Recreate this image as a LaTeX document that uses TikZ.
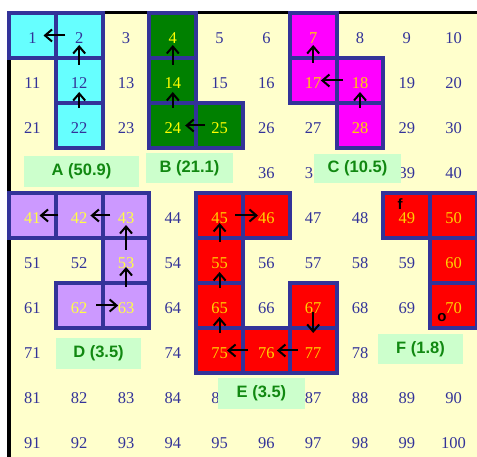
\documentclass[tikz,border=0pt]{standalone}
\usepackage{fontspec}
\setmainfont{Liberation Serif}
\newfontfamily\labfont{Liberation Sans}
\usetikzlibrary{arrows.meta}
\definecolor{numblue}{HTML}{333399}
\definecolor{bgyellow}{HTML}{FFFFCC}
\definecolor{cyanA}{HTML}{66FFFF}
\definecolor{greenB}{HTML}{008000}
\definecolor{magC}{HTML}{FF00FF}
\definecolor{lavD}{HTML}{CC99FF}
\definecolor{redE}{HTML}{FF0000}
\definecolor{lblbg}{HTML}{CCFFCC}
\definecolor{lblfg}{HTML}{118811}
\definecolor{ytext}{HTML}{FFFF00}
\definecolor{otext}{HTML}{FFD200}
\definecolor{ltext}{HTML}{FFFF44}
\tikzset{
  cell/.style={minimum width=46.8pt, minimum height=45pt, inner sep=0pt, outer sep=0pt,
    text=numblue, font=\fontsize{16.5}{16.5}\selectfont, text height=15.5pt, text depth=0pt},
  colcell/.style={fill=#1, draw=numblue, line width=4pt},
  grpA/.style={colcell=cyanA},
  grpB/.style={colcell=greenB, text=ytext},
  grpC/.style={colcell=magC, text=otext},
  grpD/.style={colcell=lavD, text=ltext},
  grpE/.style={colcell=redE, text=otext},
  cs1/.style={grpA}, cs2/.style={grpA}, cs12/.style={grpA}, cs22/.style={grpA},
  cs4/.style={grpB}, cs14/.style={grpB}, cs24/.style={grpB}, cs25/.style={grpB},
  cs7/.style={grpC}, cs17/.style={grpC}, cs18/.style={grpC}, cs28/.style={grpC},
  cs41/.style={grpD}, cs42/.style={grpD}, cs43/.style={grpD}, cs53/.style={grpD},
  cs62/.style={grpD}, cs63/.style={grpD},
  cs45/.style={grpE}, cs46/.style={grpE}, cs55/.style={grpE}, cs65/.style={grpE},
  cs75/.style={grpE}, cs76/.style={grpE}, cs77/.style={grpE}, cs67/.style={grpE},
  cs49/.style={grpE}, cs50/.style={grpE}, cs60/.style={grpE}, cs70/.style={grpE},
  lbl/.style={fill=lblbg, inner sep=0pt, text=lblfg, font=\labfont\bfseries\fontsize{16.5}{16.5}\selectfont},
  arr/.style={-{Straight Barb[length=7pt,width=12pt]}, line width=2pt, black},
  mk/.style={inner sep=0pt, text=black, font=\labfont\bfseries\fontsize{15}{15}\selectfont}
}
\begin{document}
\begin{tikzpicture}[x=1pt,y=-1pt]
\useasboundingbox (0,0) rectangle (477,457);
\clip (0,0) rectangle (477,457);
\fill[white] (0,0) rectangle (477,457);
\fill[bgyellow] (9,13) rectangle (477,457);
\draw[line width=3pt, black] (7,13) -- (477,13);
\draw[line width=3.5pt, black] (9,13) -- (9,457);
% cells
\foreach \r in {0,...,9} {
  \foreach \c in {1,...,10} {
    \pgfmathtruncatemacro\n{10*\r+\c}
    \node[cell, cs\n/.try] (c\n) at ({9+46.8*(\c-0.5)}, {13+45*(\r+0.5)}) {\n};
  }
}
% arrows
\draw[arr, shorten <=13.9pt, shorten >=11.1pt] (c2.center) -- (c1.center);
\draw[arr, shorten <=15.5pt, shorten >=9.5pt] (c12.center) -- (c2.center);
\draw[arr, shorten <=17.5pt, shorten >=11.5pt] (c22.center) -- (c12.center);
\draw[arr, shorten <=15.5pt, shorten >=9.5pt] (c14.center) -- (c4.center);
\draw[arr, shorten <=17.5pt, shorten >=11.5pt] (c24.center) -- (c14.center);
\draw[arr, shorten <=14.5pt, shorten >=12.4pt] (c25.center) -- (c24.center);
\draw[arr, shorten <=17.5pt, shorten >=9.5pt] (c17.center) -- (c7.center);
\draw[arr, shorten <=17.2pt, shorten >=7.7pt] (c18.center) -- (c17.center);
\draw[arr, shorten <=17.5pt, shorten >=11.5pt] (c28.center) -- (c18.center);
\draw[arr, shorten <=20.8pt, shorten >=7.1pt] (c42.center) -- (c41.center);
\draw[arr, shorten <=15.7pt, shorten >=11.2pt] (c43.center) -- (c42.center);
\draw[arr, shorten <=10.5pt, shorten >=9.5pt] (c53.center) -- (c43.center);
\draw[arr, shorten <=18.5pt, shorten >=6.5pt] (c63.center) -- (c53.center);
\draw[arr, shorten <=17.2pt, shorten >=7.8pt] (c62.center) -- (c63.center);
\draw[arr, shorten <=15.4pt, shorten >=8.4pt] (c45.center) -- (c46.center);
\draw[arr, shorten <=18.5pt, shorten >=7.5pt] (c55.center) -- (c45.center);
\draw[arr, shorten <=17.5pt, shorten >=11.5pt] (c65.center) -- (c55.center);
\draw[arr, shorten <=17.5pt, shorten >=11.5pt] (c75.center) -- (c65.center);
\draw[arr, shorten <=18.4pt, shorten >=7.4pt] (c76.center) -- (c75.center);
\draw[arr, shorten <=15.3pt, shorten >=10.5pt] (c77.center) -- (c76.center);
\draw[arr, shorten <=6.5pt, shorten >=17.5pt] (c67.center) -- (c77.center);
% marks
\node[mk] (mf) at (400,204) {f};
\node[mk] (mo) at (442,318) {o};
% labels
\node[lbl, minimum width=115pt, minimum height=31pt] (lA) at (81.5,171.5) {A (50.9)};
\node[lbl, minimum width=87pt, minimum height=30pt] (lB) at (189.5,168) {B (21.1)};
\node[lbl, minimum width=87pt, minimum height=29pt] (lC) at (357.5,168.5) {C (10.5)};
\node[lbl, minimum width=85pt, minimum height=31pt] (lD) at (98.5,353.5) {D (3.5)};
\node[lbl, minimum width=87pt, minimum height=31pt] (lE) at (261.5,393.5) {E (3.5)};
\node[lbl, minimum width=85pt, minimum height=30pt] (lF) at (420.5,349) {F (1.8)};
\end{tikzpicture}
\end{document}
